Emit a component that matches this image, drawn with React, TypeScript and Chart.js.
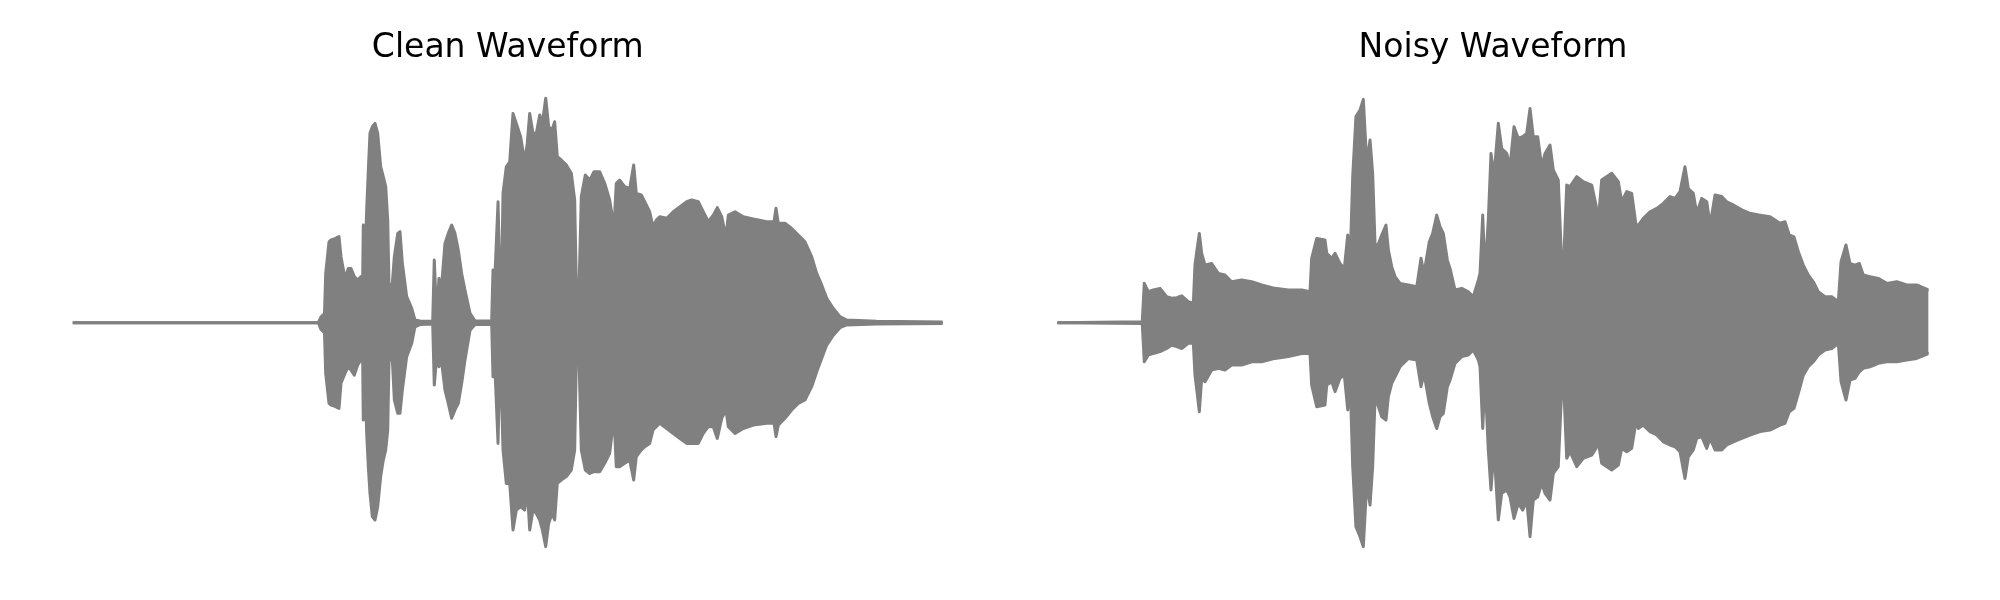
import React, { useEffect, useRef } from "react";
import { Chart, registerables } from "chart.js";

Chart.register(...registerables);

// Time axis as percent of clip duration; amplitudes normalised to the clip peak.
const cleanTime = [
  0, 28.23, 28.54, 28.94, 29.08, 29.46, 29.69, 30.15, 30.61, 30.84,
  31.3, 31.68, 31.99, 32.37, 32.76, 33.14, 33.33, 33.4, 33.54, 33.79,
  33.98, 34.17, 34.44, 34.75, 35.06, 35.4, 35.7, 35.98, 36.21, 36.36,
  36.74, 36.97, 37.36, 37.62, 37.89, 38.39, 38.97, 39.34, 39.92, 41.38,
  41.56, 41.84, 42.1, 42.33, 42.79, 43.17, 43.56, 43.94, 44.32, 44.71,
  45.09, 45.67, 46.24, 48.16, 48.31, 48.51, 48.89, 49.12, 49.35, 49.46,
  49.84, 50.23, 50.61, 50.99, 51.49, 51.95, 52.25, 52.53, 52.91, 53.29,
  53.68, 53.98, 54.37, 54.71, 55.09, 55.4, 55.7, 56.16, 56.74, 57.31,
  57.7, 57.89, 58.16, 58.46, 58.92, 59.43, 59.92, 60.57, 61.15, 61.72,
  62.22, 62.48, 62.87, 63.45, 64.02, 64.48, 64.78, 65.36, 65.75, 66.32,
  66.7, 67.08, 67.47, 68.28, 69.03, 69.8, 70.57, 71.15, 71.91, 72.48,
  73.06, 73.63, 74.09, 74.6, 75.09, 75.36, 76.13, 77.08, 78.23, 79.77,
  80.61, 80.84, 81.1, 81.87, 82.64, 83.4, 84.17, 84.94, 85.52, 86.09,
  86.67, 87.43, 88.2, 88.97, 92.41, 100,
];
const cleanUpper = [
  0, 0, 0.026, 0.04, 0.218, 0.358, 0.366, 0.372, 0.381, 0.292,
  0.196, 0.24, 0.24, 0.204, 0.189, 0.204, 0.2, 0.432, 0.204, 0.499,
  0.676, 0.838, 0.867, 0.882, 0.838, 0.69, 0.646, 0.602, 0.454, 0.159,
  0.174, 0.292, 0.395, 0.403, 0.263, 0.115, 0.063, 0.012, 0.008, 0.006,
  0.277, 0.027, 0.196, 0.13, 0.351, 0.395, 0.432, 0.395, 0.322, 0.218,
  0.145, 0.041, 0.008, 0.008, 0.233, 0.189, 0.535, 0.159, 0.3, 0.572,
  0.69, 0.712, 0.926, 0.882, 0.823, 0.712, 0.794, 0.926, 0.838, 0.838,
  0.919, 0.882, 0.993, 0.867, 0.853, 0.889, 0.735, 0.72, 0.698, 0.661,
  0.543, 0.159, 0.1, 0.558, 0.653, 0.631, 0.668, 0.668, 0.617, 0.543,
  0.425, 0.617, 0.631, 0.602, 0.594, 0.698, 0.572, 0.565, 0.535, 0.491,
  0.425, 0.454, 0.469, 0.462, 0.491, 0.513, 0.535, 0.543, 0.535, 0.491,
  0.447, 0.476, 0.509, 0.469, 0.38, 0.476, 0.491, 0.469, 0.459, 0.447,
  0.447, 0.506, 0.44, 0.44, 0.417, 0.388, 0.358, 0.292, 0.218, 0.167,
  0.108, 0.063, 0.027, 0.012, 0.006, 0.003,
];
const cleanLower = [
  0, 0, -0.03, -0.045, -0.224, -0.357, -0.364, -0.37, -0.379, -0.268,
  -0.224, -0.195, -0.21, -0.232, -0.187, -0.165, -0.17, -0.431, -0.165, -0.49,
  -0.637, -0.755, -0.858, -0.873, -0.814, -0.681, -0.608, -0.563, -0.475, -0.165,
  -0.165, -0.342, -0.401, -0.401, -0.298, -0.15, -0.091, -0.018, -0.008, -0.006,
  -0.276, -0.15, -0.195, -0.15, -0.298, -0.357, -0.423, -0.386, -0.357, -0.268,
  -0.165, -0.033, -0.008, -0.008, -0.239, -0.18, -0.534, -0.135, -0.4, -0.563,
  -0.711, -0.711, -0.917, -0.829, -0.814, -0.829, -0.74, -0.917, -0.829, -0.844,
  -0.873, -0.917, -0.991, -0.888, -0.844, -0.873, -0.711, -0.696, -0.681, -0.652,
  -0.563, -0.15, -0.106, -0.563, -0.652, -0.667, -0.659, -0.659, -0.622, -0.578,
  -0.416, -0.637, -0.637, -0.622, -0.608, -0.696, -0.593, -0.563, -0.549, -0.534,
  -0.475, -0.46, -0.445, -0.468, -0.49, -0.512, -0.534, -0.534, -0.534, -0.49,
  -0.46, -0.46, -0.512, -0.423, -0.386, -0.46, -0.49, -0.468, -0.453, -0.445,
  -0.445, -0.504, -0.453, -0.423, -0.386, -0.357, -0.342, -0.283, -0.217, -0.158,
  -0.099, -0.055, -0.022, -0.01, -0.006, -0.003,
];

const noisyTime = [
  0, 9.75, 9.98, 10.44, 11.02, 11.79, 12.55, 13.13, 13.7, 14.28,
  15.03, 15.61, 15.8, 16.03, 16.3, 16.57, 16.95, 17.72, 18.48, 19.24,
  20.01, 21.16, 22.31, 23.46, 24.98, 26.51, 28.05, 29.0, 29.19, 29.77,
  30.72, 30.92, 31.49, 31.87, 32.44, 32.94, 33.33, 33.59, 33.9, 34.27,
  34.74, 35.12, 35.51, 35.89, 36.19, 36.46, 36.72, 37.23, 37.72, 37.99,
  38.38, 38.76, 39.33, 40.29, 41.25, 41.74, 42.08, 42.69, 43.08, 43.54,
  43.92, 44.3, 44.76, 45.07, 45.64, 46.41, 47.17, 47.74, 48.32, 48.51,
  48.82, 49.08, 49.46, 49.77, 50.11, 50.61, 51.0, 51.57, 51.95, 52.41,
  52.9, 53.41, 53.87, 54.25, 54.62, 55.13, 55.59, 55.97, 56.54, 56.92,
  57.49, 57.88, 58.07, 58.46, 58.84, 59.61, 60.36, 61.33, 61.82, 62.08,
  62.47, 63.62, 64.38, 64.77, 65.34, 65.92, 66.41, 66.68, 67.25, 68.02,
  68.79, 69.54, 70.31, 70.89, 71.46, 72.03, 72.41, 72.99, 73.38, 73.95,
  74.53, 74.91, 75.48, 76.25, 76.82, 77.58, 78.55, 79.49, 80.64, 81.79,
  82.93, 83.51, 84.0, 84.54, 85.04, 85.61, 86.18, 86.76, 87.33, 88.1,
  88.87, 89.63, 89.94, 90.51, 90.97, 91.54, 92.04, 92.49, 93.26, 94.22,
  95.18, 96.33, 97.48, 98.62, 100,
];
const noisyUpper = [
  0, 0.004, 0.174, 0.137, 0.145, 0.152, 0.115, 0.108, 0.111, 0.119,
  0.093, 0.086, 0.255, 0.322, 0.395, 0.307, 0.255, 0.262, 0.218, 0.211,
  0.181, 0.189, 0.181, 0.167, 0.152, 0.145, 0.145, 0.137, 0.285, 0.373,
  0.366, 0.307, 0.285, 0.307, 0.262, 0.24, 0.388, 0.26, 0.646, 0.912,
  0.941, 0.988, 0.705, 0.808, 0.661, 0.351, 0.336, 0.388, 0.432, 0.322,
  0.248, 0.204, 0.174, 0.167, 0.159, 0.285, 0.218, 0.358, 0.395, 0.476,
  0.425, 0.395, 0.277, 0.24, 0.145, 0.152, 0.137, 0.115, 0.189, 0.218,
  0.476, 0.218, 0.454, 0.749, 0.646, 0.882, 0.771, 0.749, 0.69, 0.867,
  0.816, 0.823, 0.838, 0.948, 0.823, 0.823, 0.69, 0.749, 0.786, 0.676,
  0.631, 0.263, 0.233, 0.609, 0.602, 0.646, 0.624, 0.609, 0.521, 0.447,
  0.631, 0.661, 0.624, 0.535, 0.58, 0.572, 0.432, 0.432, 0.462, 0.491,
  0.506, 0.528, 0.558, 0.55, 0.58, 0.69, 0.594, 0.572, 0.484, 0.55,
  0.535, 0.432, 0.565, 0.558, 0.535, 0.521, 0.499, 0.484, 0.476, 0.469,
  0.44, 0.447, 0.388, 0.38, 0.314, 0.255, 0.211, 0.181, 0.137, 0.115,
  0.115, 0.093, 0.27, 0.344, 0.262, 0.255, 0.262, 0.211, 0.204, 0.196,
  0.174, 0.181, 0.167, 0.167, 0.145,
];
const noisyLower = [
  0, -0.004, -0.173, -0.143, -0.136, -0.128, -0.114, -0.099, -0.106, -0.114,
  -0.091, -0.091, -0.232, -0.305, -0.394, -0.246, -0.261, -0.209, -0.202, -0.209,
  -0.187, -0.187, -0.173, -0.173, -0.158, -0.15, -0.136, -0.136, -0.276, -0.372,
  -0.364, -0.276, -0.261, -0.305, -0.246, -0.232, -0.386, -0.232, -0.637, -0.903,
  -0.947, -0.991, -0.711, -0.807, -0.637, -0.342, -0.357, -0.416, -0.431, -0.327,
  -0.268, -0.239, -0.195, -0.158, -0.165, -0.283, -0.224, -0.357, -0.416, -0.468,
  -0.416, -0.401, -0.283, -0.254, -0.18, -0.15, -0.143, -0.121, -0.165, -0.195,
  -0.468, -0.239, -0.563, -0.74, -0.56, -0.873, -0.755, -0.74, -0.77, -0.866,
  -0.799, -0.829, -0.785, -0.947, -0.785, -0.77, -0.711, -0.755, -0.785, -0.667,
  -0.637, -0.298, -0.239, -0.6, -0.57, -0.637, -0.6, -0.586, -0.556, -0.527,
  -0.622, -0.652, -0.63, -0.556, -0.571, -0.556, -0.438, -0.468, -0.453, -0.482,
  -0.497, -0.527, -0.541, -0.549, -0.571, -0.689, -0.593, -0.563, -0.512, -0.504,
  -0.556, -0.512, -0.563, -0.563, -0.541, -0.527, -0.512, -0.497, -0.482, -0.475,
  -0.453, -0.445, -0.394, -0.379, -0.313, -0.232, -0.195, -0.173, -0.143, -0.121,
  -0.114, -0.091, -0.261, -0.342, -0.254, -0.246, -0.217, -0.202, -0.195, -0.18,
  -0.173, -0.173, -0.165, -0.158, -0.136,
];

const WAVE_COLOR = "#808080";
const Y_LIMIT = 1.08;

type WaveProps = {
  title: string;
  time: number[];
  upper: number[];
  lower: number[];
  left: number;
  padLeft: number;
  padRight: number;
};

function WaveChart({ title, time, upper, lower, left, padLeft, padRight }: WaveProps) {
  const ref = useRef<HTMLCanvasElement | null>(null);

  useEffect(() => {
    if (!ref.current) return;
    const n = Math.min(time.length, upper.length, lower.length);
    const lineStyle = {
      borderColor: WAVE_COLOR,
      backgroundColor: WAVE_COLOR,
      borderWidth: 3,
      pointRadius: 0,
      pointHoverRadius: 0,
      tension: 0,
      borderJoinStyle: "round" as const,
      borderCapStyle: "round" as const,
    };
    const upperPts = [] as { x: number; y: number }[];
    const lowerPts = [] as { x: number; y: number }[];
    for (let i = 0; i < n; i++) {
      upperPts.push({ x: time[i], y: upper[i] });
      lowerPts.push({ x: time[i], y: lower[i] });
    }
    const chart = new Chart(ref.current, {
      type: "line",
      data: {
        datasets: [
          { ...lineStyle, data: upperPts, fill: false },
          { ...lineStyle, data: lowerPts, fill: "-1" },
        ],
      },
      options: {
        responsive: false,
        animation: false,
        events: [],
        layout: { padding: { left: padLeft, right: padRight, top: 0, bottom: 33.2 } },
        plugins: {
          legend: { display: false },
          tooltip: { enabled: false },
          title: {
            display: true,
            text: title,
            color: "#000000",
            font: { family: "DejaVu Sans", size: 33, weight: "normal", lineHeight: 1.2 },
            padding: { top: 29, bottom: 10 },
          },
        },
        scales: {
          x: { type: "linear", min: 0, max: 100, display: false },
          y: { type: "linear", min: -Y_LIMIT, max: Y_LIMIT, display: false },
        },
      },
    });
    return () => chart.destroy();
  }, [title, time, upper, lower, padLeft, padRight]);

  return (
    <canvas
      ref={ref}
      width={1000}
      height={600}
      style={{ position: "absolute", left, top: 0, width: 1000, height: 600 }}
    />
  );
}

export default function App() {
  return (
    <div
      style={{
        position: "fixed",
        left: 0,
        top: 0,
        width: 2000,
        height: 600,
        background: "#ffffff",
        overflow: "hidden",
      }}
    >
      <WaveChart
        title="Clean Waveform"
        time={cleanTime}
        upper={cleanUpper}
        lower={cleanLower}
        left={0}
        padLeft={72.7}
        padRight={57.3}
      />
      <WaveChart
        title="Noisy Waveform"
        time={noisyTime}
        upper={noisyUpper}
        lower={noisyLower}
        left={1000}
        padLeft={57.3}
        padRight={71.3}
      />
    </div>
  );
}
